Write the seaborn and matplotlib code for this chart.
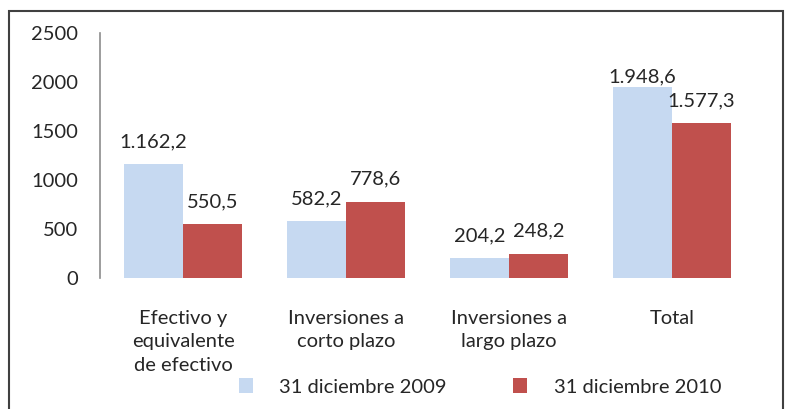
import pandas as pd
import numpy as np
import matplotlib.pyplot as plt
import seaborn as sns
from matplotlib.patches import Rectangle

# --- datos ---
categorias = ['Efectivo y\nequivalente\nde efectivo', 'Inversiones a\ncorto plazo',
              'Inversiones a\nlargo plazo', 'Total']
series = ['31 diciembre 2009', '31 diciembre 2010']
valores_2009 = [1162.2, 582.2, 204.2, 1948.6]
valores_2010 = [550.5, 778.6, 248.2, 1577.3]
colores = ['#C6D9F1', '#C0504D']

df = pd.DataFrame({
    'Categoria': categorias * 2,
    'Serie': [series[0]] * 4 + [series[1]] * 4,
    'Valor': valores_2009 + valores_2010,
})


def fmt_es(v):
    # formato español: punto de miles, coma decimal
    s = f"{v:,.1f}"
    return s.replace(',', 'X').replace('.', ',').replace('X', '.')


sns.set_style('white')
plt.rcParams['font.family'] = ['Lato', 'DejaVu Sans']
FS = 14.5

fig = plt.figure(figsize=(7.97, 4.09), dpi=100)
ax = fig.add_axes([100 / 797, 1 - 278 / 409, 655 / 797, 245 / 409])

sns.barplot(data=df, x='Categoria', y='Valor', hue='Serie', palette=colores,
            width=0.725, saturation=1, ax=ax, edgecolor='none')

anotaciones = []
for cont in ax.containers:
    labels = [fmt_es(b.get_height()) for b in cont]
    anotaciones.append(ax.bar_label(cont, labels=labels, padding=10, fontsize=FS))
# la etiqueta del total 2009 queda más pegada a la barra en el original
anotaciones[0][3].xyann = (0, 1)

ax.set_ylim(0, 2500)
ax.set_yticks(np.arange(0, 2501, 500))
ax.set_xlim(-0.51, 3.51)
ax.set_xlabel('')
ax.set_ylabel('')
ax.tick_params(axis='both', length=0, labelsize=FS)
ax.tick_params(axis='x', pad=23)
ax.tick_params(axis='y', pad=16)
for lab in ax.get_xticklabels():
    lab.set_linespacing(1.45)

for side in ['top', 'right', 'bottom']:
    ax.spines[side].set_visible(False)
ax.spines['left'].set_color('#8c8c8c')
ax.spines['left'].set_linewidth(1.2)

handles, labs = ax.get_legend_handles_labels()
ax.legend(handles, labs, loc='center', bbox_to_anchor=(480 / 797, 1 - 387 / 409),
          bbox_transform=fig.transFigure, ncol=2, frameon=False, fontsize=FS,
          handlelength=0.7, handleheight=0.7, handletextpad=1.3, columnspacing=3.3)

# marco exterior
fig.patches.append(Rectangle((9 / 797, -0.05), 774 / 797, 1.05 - 11 / 409,
                             transform=fig.transFigure, fill=False,
                             edgecolor='#404040', linewidth=1.5))

fig.savefig('out.png', dpi=100)
